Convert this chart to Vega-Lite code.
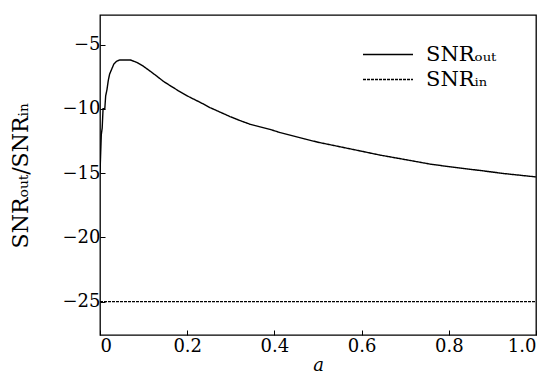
{
  "$schema": "https://vega.github.io/schema/vega-lite/v6.json",
  "width": 436,
  "height": 320,
  "autosize": "none",
  "padding": {"left": 100, "top": 15, "right": 15, "bottom": 44},
  "config": {
    "font": "DejaVu Serif",
    "view": {"stroke": "black", "strokeWidth": 1.3},
    "axis": {
      "grid": false,
      "domain": false,
      "tickColor": "black",
      "tickSize": -5,
      "labelFont": "DejaVu Serif",
      "labelFontSize": 18,
      "labelColor": "black",
      "titleFont": "DejaVu Serif",
      "titleFontSize": 18,
      "titleFontWeight": "normal",
      "titleColor": "black"
    }
  },
  "data": {
    "values": [
      {"a": 0.000, "v": -15.0, "s": "SNRₒᵤₜ"},
      {"a": 0.003, "v": -12.0, "s": "SNRₒᵤₜ"},
      {"a": 0.005, "v": -11.5, "s": "SNRₒᵤₜ"},
      {"a": 0.007, "v": -10.0, "s": "SNRₒᵤₜ"},
      {"a": 0.011, "v": -10.0, "s": "SNRₒᵤₜ"},
      {"a": 0.013, "v": -9.0, "s": "SNRₒᵤₜ"},
      {"a": 0.016, "v": -8.5, "s": "SNRₒᵤₜ"},
      {"a": 0.019, "v": -7.8, "s": "SNRₒᵤₜ"},
      {"a": 0.022, "v": -7.3, "s": "SNRₒᵤₜ"},
      {"a": 0.027, "v": -6.9, "s": "SNRₒᵤₜ"},
      {"a": 0.032, "v": -6.5, "s": "SNRₒᵤₜ"},
      {"a": 0.038, "v": -6.3, "s": "SNRₒᵤₜ"},
      {"a": 0.045, "v": -6.2, "s": "SNRₒᵤₜ"},
      {"a": 0.070, "v": -6.2, "s": "SNRₒᵤₜ"},
      {"a": 0.085, "v": -6.4, "s": "SNRₒᵤₜ"},
      {"a": 0.100, "v": -6.7, "s": "SNRₒᵤₜ"},
      {"a": 0.115, "v": -7.07, "s": "SNRₒᵤₜ"},
      {"a": 0.130, "v": -7.45, "s": "SNRₒᵤₜ"},
      {"a": 0.145, "v": -7.85, "s": "SNRₒᵤₜ"},
      {"a": 0.161, "v": -8.2, "s": "SNRₒᵤₜ"},
      {"a": 0.180, "v": -8.6, "s": "SNRₒᵤₜ"},
      {"a": 0.206, "v": -9.1, "s": "SNRₒᵤₜ"},
      {"a": 0.230, "v": -9.5, "s": "SNRₒᵤₜ"},
      {"a": 0.252, "v": -9.9, "s": "SNRₒᵤₜ"},
      {"a": 0.275, "v": -10.25, "s": "SNRₒᵤₜ"},
      {"a": 0.298, "v": -10.6, "s": "SNRₒᵤₜ"},
      {"a": 0.320, "v": -10.9, "s": "SNRₒᵤₜ"},
      {"a": 0.344, "v": -11.2, "s": "SNRₒᵤₜ"},
      {"a": 0.367, "v": -11.4, "s": "SNRₒᵤₜ"},
      {"a": 0.390, "v": -11.6, "s": "SNRₒᵤₜ"},
      {"a": 0.413, "v": -11.85, "s": "SNRₒᵤₜ"},
      {"a": 0.436, "v": -12.05, "s": "SNRₒᵤₜ"},
      {"a": 0.470, "v": -12.35, "s": "SNRₒᵤₜ"},
      {"a": 0.500, "v": -12.6, "s": "SNRₒᵤₜ"},
      {"a": 0.550, "v": -12.95, "s": "SNRₒᵤₜ"},
      {"a": 0.600, "v": -13.3, "s": "SNRₒᵤₜ"},
      {"a": 0.642, "v": -13.6, "s": "SNRₒᵤₜ"},
      {"a": 0.700, "v": -13.95, "s": "SNRₒᵤₜ"},
      {"a": 0.757, "v": -14.3, "s": "SNRₒᵤₜ"},
      {"a": 0.800, "v": -14.5, "s": "SNRₒᵤₜ"},
      {"a": 0.872, "v": -14.8, "s": "SNRₒᵤₜ"},
      {"a": 0.930, "v": -15.05, "s": "SNRₒᵤₜ"},
      {"a": 1.000, "v": -15.3, "s": "SNRₒᵤₜ"},
      {"a": 0.000, "v": -25.0, "s": "SNRᵢₙ"},
      {"a": 1.000, "v": -25.0, "s": "SNRᵢₙ"}
    ]
  },
  "mark": {"type": "line", "color": "black", "strokeWidth": 1.4, "clip": true},
  "encoding": {
    "x": {
      "field": "a",
      "type": "quantitative",
      "scale": {"domain": [0, 1], "nice": false},
      "axis": {
        "values": [0, 0.2, 0.4, 0.6, 0.8, 1.0],
        "labelExpr": "datum.value === 0 ? '0' : format(datum.value, '.1f')",
        "title": "a",
        "titleFontStyle": "italic",
        "titleFontSize": 18,
        "titlePadding": 1,
        "labelPadding": 7
      }
    },
    "y": {
      "field": "v",
      "type": "quantitative",
      "scale": {"domain": [-27.6, -2.7], "nice": false, "zero": false},
      "axis": {
        "values": [-5, -10, -15, -20, -25],
        "title": "SNRₒᵤₜ/SNRᵢₙ",
        "titleFontSize": 22,
        "titlePadding": 30,
        "labelPadding": 5
      }
    },
    "strokeDash": {
      "field": "s",
      "type": "nominal",
      "scale": {"domain": ["SNRₒᵤₜ", "SNRᵢₙ"], "range": [[1, 0], [3, 1]]},
      "legend": {
        "title": null,
        "orient": "none",
        "legendX": 262,
        "legendY": 27,
        "symbolType": "stroke",
        "symbolSize": 2500,
        "clipHeight": 25,
        "symbolStrokeColor": "black",
        "symbolStrokeWidth": 1.4,
        "labelFont": "DejaVu Serif",
        "labelFontSize": 21,
        "labelColor": "black",
        "rowPadding": 0,
        "labelOffset": 12
      }
    }
  }
}
